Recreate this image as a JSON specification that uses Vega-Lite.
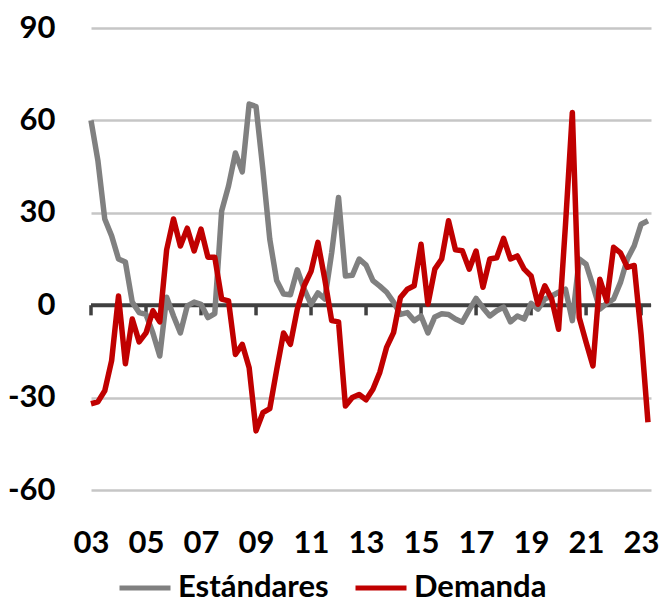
{
  "$schema": "https://vega.github.io/schema/vega-lite/v6.json",
  "autosize": {"type": "none"},
  "padding": {"left": 91, "top": 28, "right": 12, "bottom": 113},
  "width": 560,
  "height": 462,
  "data": {"values": [
    {"t": 2003.00, "Estándares": 60, "Demanda": -32},
    {"t": 2003.25, "Estándares": 47, "Demanda": -31.4},
    {"t": 2003.50, "Estándares": 28, "Demanda": -27.8},
    {"t": 2003.75, "Estándares": 22.5, "Demanda": -18},
    {"t": 2004.00, "Estándares": 15, "Demanda": 3},
    {"t": 2004.25, "Estándares": 14, "Demanda": -19},
    {"t": 2004.50, "Estándares": 1, "Demanda": -4.5},
    {"t": 2004.75, "Estándares": -2.4, "Demanda": -11.9},
    {"t": 2005.00, "Estándares": -3, "Demanda": -9},
    {"t": 2005.25, "Estándares": -9, "Demanda": -1.8},
    {"t": 2005.50, "Estándares": -16.5, "Demanda": -5.4},
    {"t": 2005.75, "Estándares": 2.6, "Demanda": 18},
    {"t": 2006.00, "Estándares": -3.5, "Demanda": 28},
    {"t": 2006.25, "Estándares": -9, "Demanda": 19.2},
    {"t": 2006.50, "Estándares": -0.2, "Demanda": 25},
    {"t": 2006.75, "Estándares": 1, "Demanda": 17.6},
    {"t": 2007.00, "Estándares": 0.3, "Demanda": 24.7},
    {"t": 2007.25, "Estándares": -4, "Demanda": 15.6},
    {"t": 2007.50, "Estándares": -2.7, "Demanda": 15.6},
    {"t": 2007.75, "Estándares": 30.6, "Demanda": 2},
    {"t": 2008.00, "Estándares": 38.7, "Demanda": 1.4},
    {"t": 2008.25, "Estándares": 49.4, "Demanda": -16},
    {"t": 2008.50, "Estándares": 43.3, "Demanda": -12.7},
    {"t": 2008.75, "Estándares": 65.3, "Demanda": -20.3},
    {"t": 2009.00, "Estándares": 64.5, "Demanda": -40.8},
    {"t": 2009.25, "Estándares": 44, "Demanda": -34.9},
    {"t": 2009.50, "Estándares": 21.4, "Demanda": -33.6},
    {"t": 2009.75, "Estándares": 8, "Demanda": -21},
    {"t": 2010.00, "Estándares": 3.6, "Demanda": -9},
    {"t": 2010.25, "Estándares": 3.4, "Demanda": -12.7},
    {"t": 2010.50, "Estándares": 11.5, "Demanda": -1.3},
    {"t": 2010.75, "Estándares": 5.2, "Demanda": 6.3},
    {"t": 2011.00, "Estándares": 0.3, "Demanda": 11},
    {"t": 2011.25, "Estándares": 4, "Demanda": 20.4},
    {"t": 2011.50, "Estándares": 2, "Demanda": 8.4},
    {"t": 2011.75, "Estándares": 17, "Demanda": -5},
    {"t": 2012.00, "Estándares": 35, "Demanda": -5.4},
    {"t": 2012.25, "Estándares": 9.5, "Demanda": -32.7},
    {"t": 2012.50, "Estándares": 9.7, "Demanda": -30},
    {"t": 2012.75, "Estándares": 15, "Demanda": -29},
    {"t": 2013.00, "Estándares": 13, "Demanda": -30.7},
    {"t": 2013.25, "Estándares": 8, "Demanda": -27.3},
    {"t": 2013.50, "Estándares": 6.2, "Demanda": -21.8},
    {"t": 2013.75, "Estándares": 4.2, "Demanda": -13.6},
    {"t": 2014.00, "Estándares": 1, "Demanda": -8.9},
    {"t": 2014.25, "Estándares": -3, "Demanda": 2.5},
    {"t": 2014.50, "Estándares": -2.4, "Demanda": 5.2},
    {"t": 2014.75, "Estándares": -5, "Demanda": 6.3},
    {"t": 2015.00, "Estándares": -3.5, "Demanda": 19.8},
    {"t": 2015.25, "Estándares": -9, "Demanda": 0.3},
    {"t": 2015.50, "Estándares": -3.8, "Demanda": 11.7},
    {"t": 2015.75, "Estándares": -2.8, "Demanda": 15},
    {"t": 2016.00, "Estándares": -3, "Demanda": 27.4},
    {"t": 2016.25, "Estándares": -4.5, "Demanda": 18},
    {"t": 2016.50, "Estándares": -5.5, "Demanda": 17.7},
    {"t": 2016.75, "Estándares": -1.5, "Demanda": 11.7},
    {"t": 2017.00, "Estándares": 2.2, "Demanda": 17.6},
    {"t": 2017.25, "Estándares": -0.8, "Demanda": 5.8},
    {"t": 2017.50, "Estándares": -3.5, "Demanda": 15},
    {"t": 2017.75, "Estándares": -1.8, "Demanda": 15.4},
    {"t": 2018.00, "Estándares": -0.6, "Demanda": 21.7},
    {"t": 2018.25, "Estándares": -5.4, "Demanda": 15},
    {"t": 2018.50, "Estándares": -3.5, "Demanda": 16},
    {"t": 2018.75, "Estándares": -4.5, "Demanda": 11.7},
    {"t": 2019.00, "Estándares": 0.6, "Demanda": 9.5},
    {"t": 2019.25, "Estándares": -1.3, "Demanda": 0.3},
    {"t": 2019.50, "Estándares": 2, "Demanda": 6.3},
    {"t": 2019.75, "Estándares": 3, "Demanda": 2},
    {"t": 2020.00, "Estándares": 4.2, "Demanda": -7.8},
    {"t": 2020.25, "Estándares": 5.2, "Demanda": 26},
    {"t": 2020.50, "Estándares": -5, "Demanda": 62.6},
    {"t": 2020.75, "Estándares": 15, "Demanda": -4},
    {"t": 2021.00, "Estándares": 13.3, "Demanda": -12},
    {"t": 2021.25, "Estándares": 6.3, "Demanda": -19.7},
    {"t": 2021.50, "Estándares": -1.3, "Demanda": 8.4},
    {"t": 2021.75, "Estándares": 0.6, "Demanda": 1.4},
    {"t": 2022.00, "Estándares": 2, "Demanda": 18.8},
    {"t": 2022.25, "Estándares": 7.4, "Demanda": 17},
    {"t": 2022.50, "Estándares": 15, "Demanda": 12.3},
    {"t": 2022.75, "Estándares": 19.3, "Demanda": 12.9},
    {"t": 2023.00, "Estándares": 26.3, "Demanda": -9.5},
    {"t": 2023.25, "Estándares": 27.4, "Demanda": -38}
  ]},
  "config": {
    "view": {"stroke": null},
    "font": "Lato",
    "axis": {
      "domain": false,
      "ticks": false,
      "labelFont": "Lato",
      "labelFontWeight": "bold",
      "labelFontSize": 31,
      "labelColor": "#000000",
      "labelFlush": false
    },
    "axisY": {"grid": true, "gridColor": "#c6c6c6", "gridWidth": 2.5, "labelPadding": 36},
    "axisX": {"grid": false, "labelPadding": 38, "labelOverlap": false},
    "legend": {
      "symbolType": "stroke",
      "symbolSize": 2601,
      "symbolStrokeWidth": 5,
      "labelFont": "Lato",
      "labelFontWeight": "bold",
      "labelFontSize": 31,
      "labelColor": "#000000",
      "labelOffset": 5,
      "columnPadding": 16,
      "padding": 0,
      "labelLimit": 400
    }
  },
  "layer": [
    {
      "data": {"values": [{}]},
      "mark": {"type": "rule", "color": "#404040", "strokeWidth": 4},
      "encoding": {
        "y": {"datum": 0, "type": "quantitative", "title": null,
              "scale": {"domain": [-60, 90], "nice": false, "zero": false},
              "axis": {"values": [-60, -30, 0, 30, 60, 90], "labelExpr": "datum.value + ''"}}
      }
    },
    {
      "data": {"values": [{"t": 2003}, {"t": 2005}, {"t": 2007}, {"t": 2009}, {"t": 2011}, {"t": 2013}, {"t": 2015}, {"t": 2017}, {"t": 2019}, {"t": 2021}, {"t": 2023}]},
      "mark": {"type": "rule", "color": "#404040", "strokeWidth": 3.5},
      "encoding": {
        "x": {"field": "t", "type": "quantitative", "title": null,
              "scale": {"domain": [2003, 2023.36], "nice": false, "zero": false},
              "axis": {"values": [2003, 2005, 2007, 2009, 2011, 2013, 2015, 2017, 2019, 2021, 2023], "format": "d", "labelExpr": "substring(datum.label, 2)"}},
        "y": {"datum": 0, "type": "quantitative", "title": null,
              "scale": {"domain": [-60, 90], "nice": false, "zero": false},
              "axis": {"values": [-60, -30, 0, 30, 60, 90], "labelExpr": "datum.value + ''"}},
        "y2": {"datum": -3.3}
      }
    },
    {
      "mark": {"type": "line", "strokeWidth": 5.5, "strokeJoin": "round"},
      "encoding": {
        "x": {"field": "t", "type": "quantitative", "title": null,
              "scale": {"domain": [2003, 2023.36], "nice": false, "zero": false},
              "axis": {"values": [2003, 2005, 2007, 2009, 2011, 2013, 2015, 2017, 2019, 2021, 2023], "format": "d", "labelExpr": "substring(datum.label, 2)"}},
        "y": {"field": "Estándares", "type": "quantitative", "title": null,
              "scale": {"domain": [-60, 90], "nice": false, "zero": false},
              "axis": {"values": [-60, -30, 0, 30, 60, 90], "labelExpr": "datum.value + ''"}},
        "color": {"datum": "Estándares", "type": "nominal", "title": null,
                  "scale": {"domain": ["Estándares", "Demanda"], "range": ["#808080", "#c00000"]},
                  "legend": {"orient": "none", "direction": "horizontal", "legendX": 26, "legendY": 532}}
      }
    },
    {
      "mark": {"type": "line", "strokeWidth": 5.5, "strokeJoin": "round"},
      "encoding": {
        "x": {"field": "t", "type": "quantitative", "title": null,
              "scale": {"domain": [2003, 2023.36], "nice": false, "zero": false},
              "axis": {"values": [2003, 2005, 2007, 2009, 2011, 2013, 2015, 2017, 2019, 2021, 2023], "format": "d", "labelExpr": "substring(datum.label, 2)"}},
        "y": {"field": "Demanda", "type": "quantitative", "title": null,
              "scale": {"domain": [-60, 90], "nice": false, "zero": false},
              "axis": {"values": [-60, -30, 0, 30, 60, 90], "labelExpr": "datum.value + ''"}},
        "color": {"datum": "Demanda", "type": "nominal", "title": null,
                  "scale": {"domain": ["Estándares", "Demanda"], "range": ["#808080", "#c00000"]},
                  "legend": {"orient": "none", "direction": "horizontal", "legendX": 26, "legendY": 532}}
      }
    }
  ]
}
